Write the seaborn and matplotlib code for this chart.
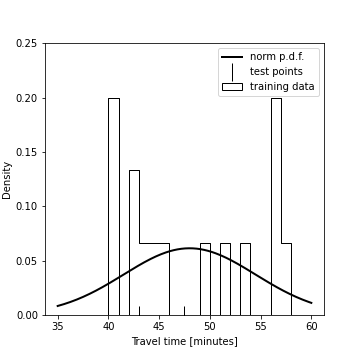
import numpy as np
import matplotlib
matplotlib.use("Agg")
import matplotlib.pyplot as plt
import seaborn as sns

# training travel times [minutes], one per observation (15 points)
train_times = [40.2, 40.5, 40.8, 42.3, 42.7, 43.5, 44.5, 45.5,
               49.5, 51.5, 53.5, 56.2, 56.5, 56.8, 57.5]
bin_edges = list(range(40, 59))
test_times = [43.0, 47.5]
test_y = [0.0, 0.0]

# fitted normal distribution
mu = 48.0
sigma = 6.5
x_range = (35, 60)

fig, ax = plt.subplots(figsize=(5, 5), dpi=72)
fig.subplots_adjust(left=0.125, right=0.9, bottom=0.125, top=0.88)

xs = np.linspace(x_range[0], x_range[1], 200)
pdf = np.exp(-0.5 * ((xs - mu) / sigma) ** 2) / (sigma * np.sqrt(2 * np.pi))
sns.lineplot(x=xs, y=pdf, color="black", linewidth=2, label="norm p.d.f.", ax=ax)

ax.plot(test_times, test_y, "|", color="black", ms=18, label="test points")

sns.histplot(x=train_times, bins=bin_edges, stat="density", element="step",
             fill=True, color="black", linewidth=1,
             label="training data", ax=ax)
hist_poly = ax.collections[-1]
hist_poly.set_alpha(1)
hist_poly.set_facecolor("none")
hist_poly.set_edgecolor("black")

ax.set_ylim(0, 0.25)
ax.set_xlabel("Travel time [minutes]")
ax.set_ylabel("Density")
ax.legend(loc="upper right")

plt.savefig("out.png")
